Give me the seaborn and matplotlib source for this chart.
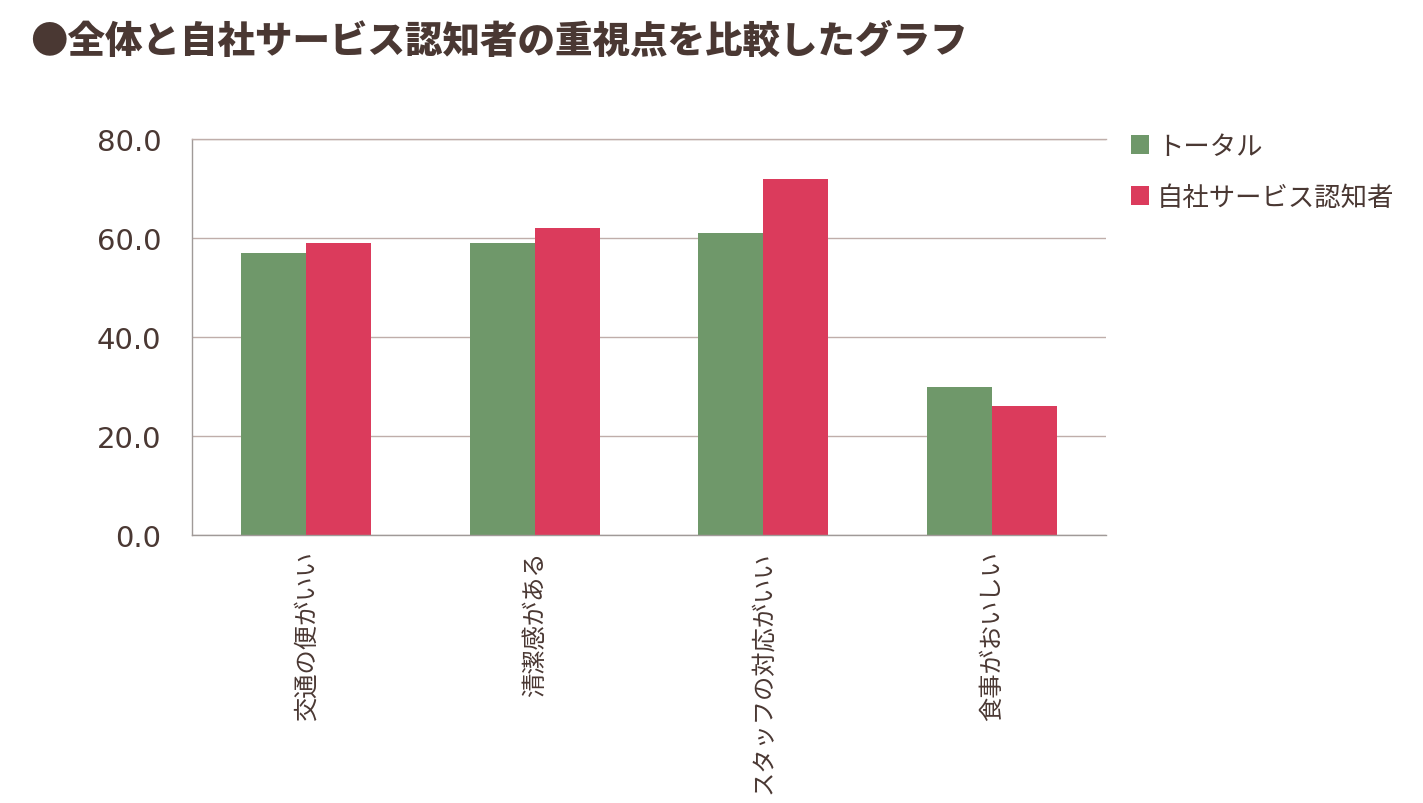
import matplotlib
matplotlib.use("Agg")
import matplotlib.pyplot as plt
import seaborn as sns
import pandas as pd
from matplotlib.patches import Patch

categories = ["交通の便がいい", "清潔感がある", "スタッフの対応がいい", "食事がおいしい"]
series_names = ["トータル", "自社サービス認知者"]
total_values = [57, 59, 61, 30]
aware_values = [59, 62, 72, 26]
y_ticks = [0, 20, 40, 60, 80]
title = "●全体と自社サービス認知者の重視点を比較したグラフ"

colors = ["#6f986a", "#db3b5c"]
text_color = "#4a3833"

sns.set_theme(style="white")
plt.rcParams["font.family"] = ["Noto Sans CJK JP", "DejaVu Sans"]

df = pd.DataFrame({
    "category": categories * 2,
    "series": [series_names[0]] * 4 + [series_names[1]] * 4,
    "value": total_values + aware_values,
})

fig = plt.figure(figsize=(14.23, 8.04), dpi=100)
ax = fig.add_axes([192 / 1423, 1 - 536 / 804, (1106 - 192) / 1423, (536 - 140) / 804])

sns.barplot(data=df, x="category", y="value", hue="series", palette=colors,
            order=categories, hue_order=series_names, width=0.57, ax=ax,
            saturation=1, legend=False, edgecolor="none", linewidth=0)

ax.set_ylim(0, 80)
ax.set_xlim(-0.5, 3.5)
ax.set_yticks(y_ticks)
ax.set_yticklabels([f"{v:.1f}" for v in y_ticks], fontsize=21, color=text_color,
                   family=["DejaVu Sans"])
ax.set_xticks(range(len(categories)))
ax.set_xticklabels(categories, rotation=90, fontsize=17.5, color=text_color, va="top")
ax.tick_params(axis="x", length=0, pad=11)
ax.tick_params(axis="y", length=0, pad=22)
ax.set_xlabel("")
ax.set_ylabel("")

ax.yaxis.grid(True, color="#bfaeaa", linewidth=1)
ax.set_axisbelow(True)
ax.spines["right"].set_visible(False)
ax.spines["top"].set_color("#bfaeaa")
ax.spines["left"].set_color("#a09a98")
ax.spines["bottom"].set_color("#a09a98")
for s in ["top", "left", "bottom"]:
    ax.spines[s].set_linewidth(1)

handles = [Patch(facecolor=c, edgecolor="none") for c in colors]
fig.legend(handles, series_names, loc="upper left", bbox_to_anchor=(1107 / 1423, 1 - 110 / 804),
           frameon=False, fontsize=19, labelcolor=text_color, handlelength=0.7,
           handleheight=0.7, handletextpad=0.3, labelspacing=0.9)

fig.text(30 / 1423, 1 - 42 / 804, title, fontsize=27, fontweight="heavy",
         color=text_color, va="center", ha="left")

fig.savefig("out.png", dpi=100, facecolor="white")
